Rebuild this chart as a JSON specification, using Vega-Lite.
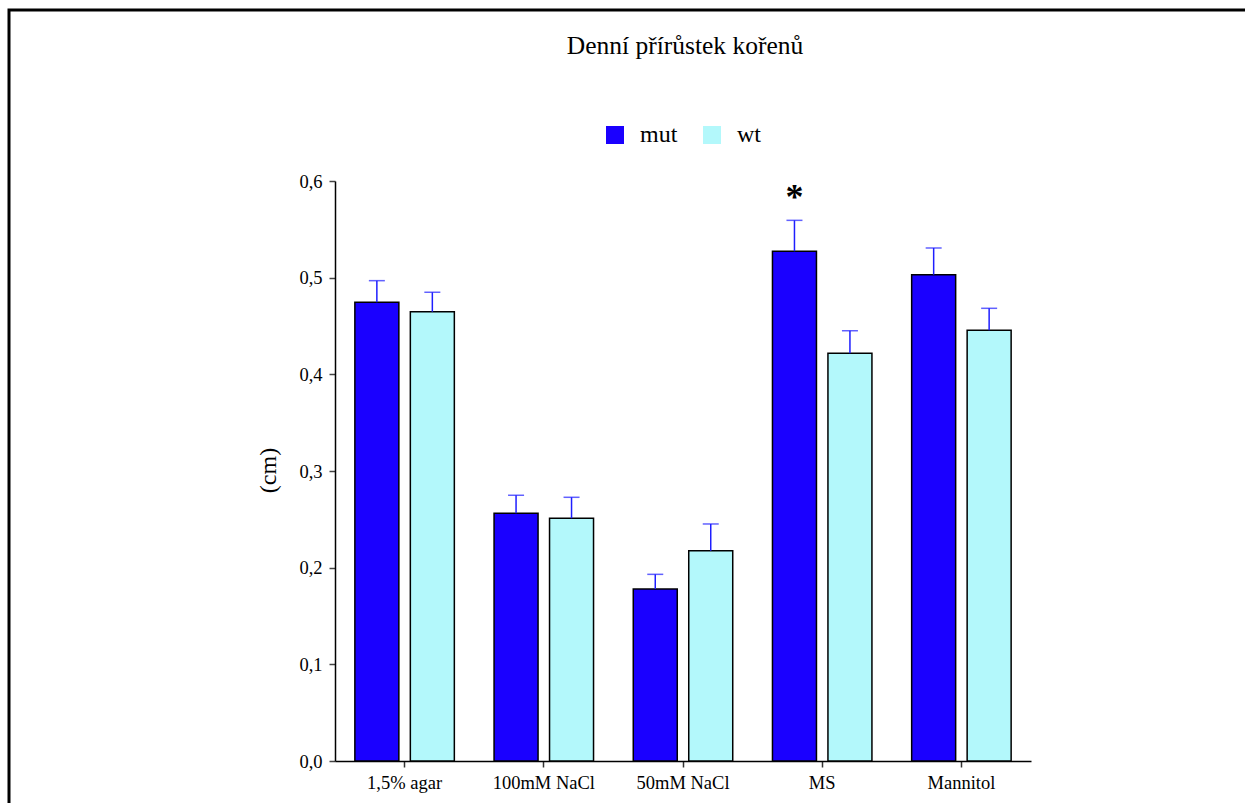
{
  "$schema": "https://vega.github.io/schema/vega-lite/v6.json",
  "width": 1236,
  "height": 793,
  "autosize": {"type": "none"},
  "padding": {"left": 9, "top": 10, "right": 0, "bottom": 0},
  "background": "white",
  "config": {
    "font": "Liberation Serif",
    "axis": {"labelFont": "Liberation Serif", "titleFont": "Liberation Serif"},
    "legend": {"labelFont": "Liberation Serif", "titleFont": "Liberation Serif"},
    "text": {"font": "Liberation Serif"},
    "view": {"stroke": "black", "strokeWidth": 3, "strokeDash": [1236, 2029, 793]}
  },
  "title": {
    "text": "Denní přírůstek kořenů",
    "font": "Liberation Serif",
    "fontSize": 25.5,
    "fontWeight": "normal",
    "color": "black",
    "anchor": "middle",
    "frame": "group",
    "baseline": "alphabetic",
    "offset": -69,
    "dx": 58
  },
  "data": {
    "values": [
      {"condition": "1,5% agar", "line": "mut", "mean": 0.4745, "upper": 0.4969, "sig": ""},
      {"condition": "1,5% agar", "line": "wt", "mean": 0.4648, "upper": 0.4849, "sig": ""},
      {"condition": "100mM NaCl", "line": "mut", "mean": 0.2562, "upper": 0.2749, "sig": ""},
      {"condition": "100mM NaCl", "line": "wt", "mean": 0.2511, "upper": 0.2728, "sig": ""},
      {"condition": "50mM NaCl", "line": "mut", "mean": 0.1779, "upper": 0.1931, "sig": ""},
      {"condition": "50mM NaCl", "line": "wt", "mean": 0.2175, "upper": 0.2452, "sig": ""},
      {"condition": "MS", "line": "mut", "mean": 0.5273, "upper": 0.5593, "sig": "*"},
      {"condition": "MS", "line": "wt", "mean": 0.4217, "upper": 0.4451, "sig": ""},
      {"condition": "Mannitol", "line": "mut", "mean": 0.5031, "upper": 0.5307, "sig": ""},
      {"condition": "Mannitol", "line": "wt", "mean": 0.4455, "upper": 0.4683, "sig": ""}
    ]
  },
  "encoding": {
    "x": {
      "field": "condition",
      "type": "nominal",
      "sort": null,
      "scale": {"range": [326, 1022], "paddingInner": 0, "paddingOuter": 0},
      "axis": {
        "title": null,
        "orient": "bottom",
        "offset": -42,
        "labelAngle": 0,
        "labelFont": "Liberation Serif",
        "labelFontSize": 18.5,
        "labelColor": "black",
        "labelPadding": 6,
        "tickSize": 6,
        "tickColor": "#333333",
        "tickWidth": 1.5,
        "domainColor": "black",
        "domainWidth": 1.5
      }
    },
    "xOffset": {
      "field": "line",
      "type": "nominal",
      "sort": ["mut", "wt"],
      "scale": {"paddingInner": 0.207, "paddingOuter": 0.358}
    },
    "y": {
      "field": "mean",
      "type": "quantitative",
      "scale": {"domain": [0, 0.6], "range": [751, 171], "nice": false, "zero": true},
      "axis": {
        "values": [0, 0.1, 0.2, 0.3, 0.4, 0.5, 0.6],
        "format": ".1f",
        "labelExpr": "replace(datum.label, '.', ',')",
        "offset": -326,
        "grid": false,
        "labelFont": "Liberation Serif",
        "labelFontSize": 18.5,
        "labelColor": "black",
        "labelPadding": 7,
        "tickSize": 6,
        "tickColor": "#444444",
        "tickWidth": 1.5,
        "domainColor": "black",
        "domainWidth": 1.5,
        "title": "(cm)",
        "titleFont": "Liberation Serif",
        "titleFontSize": 24,
        "titleFontWeight": "normal",
        "titleColor": "black",
        "titleAngle": 270,
        "titleBaseline": "bottom",
        "titleX": -55,
        "titleY": 460
      }
    }
  },
  "layer": [
    {
      "mark": {"type": "bar", "stroke": "black", "strokeWidth": 1.5, "opacity": 1},
      "encoding": {
        "color": {
          "field": "line",
          "type": "nominal",
          "scale": {"domain": ["mut", "wt"], "range": ["#1a00ff", "#b3f8fb"]},
          "legend": {
            "title": null,
            "orient": "none",
            "legendX": 594,
            "legendY": 113,
            "direction": "horizontal",
            "symbolType": "square",
            "symbolSize": 324,
            "symbolStrokeWidth": 0,
            "symbolOpacity": 1,
            "labelFont": "Liberation Serif",
            "labelFontSize": 24,
            "labelColor": "black",
            "labelOffset": 13,
            "columnPadding": 22
          }
        }
      }
    },
    {
      "mark": {"type": "rule", "color": "#1e1eff", "strokeWidth": 1.5},
      "encoding": {
        "y2": {"field": "upper"}
      }
    },
    {
      "mark": {"type": "tick", "orient": "horizontal", "color": "#1e1eff", "size": 16, "thickness": 1.5},
      "encoding": {
        "y": {"field": "upper", "type": "quantitative"}
      }
    },
    {
      "transform": [{"filter": "datum.sig != ''"}],
      "mark": {"type": "text", "font": "Liberation Serif", "fontSize": 36, "fontWeight": "bold", "color": "black", "baseline": "alphabetic", "dy": -11},
      "encoding": {
        "y": {"field": "upper", "type": "quantitative"},
        "text": {"field": "sig"}
      }
    }
  ]
}
